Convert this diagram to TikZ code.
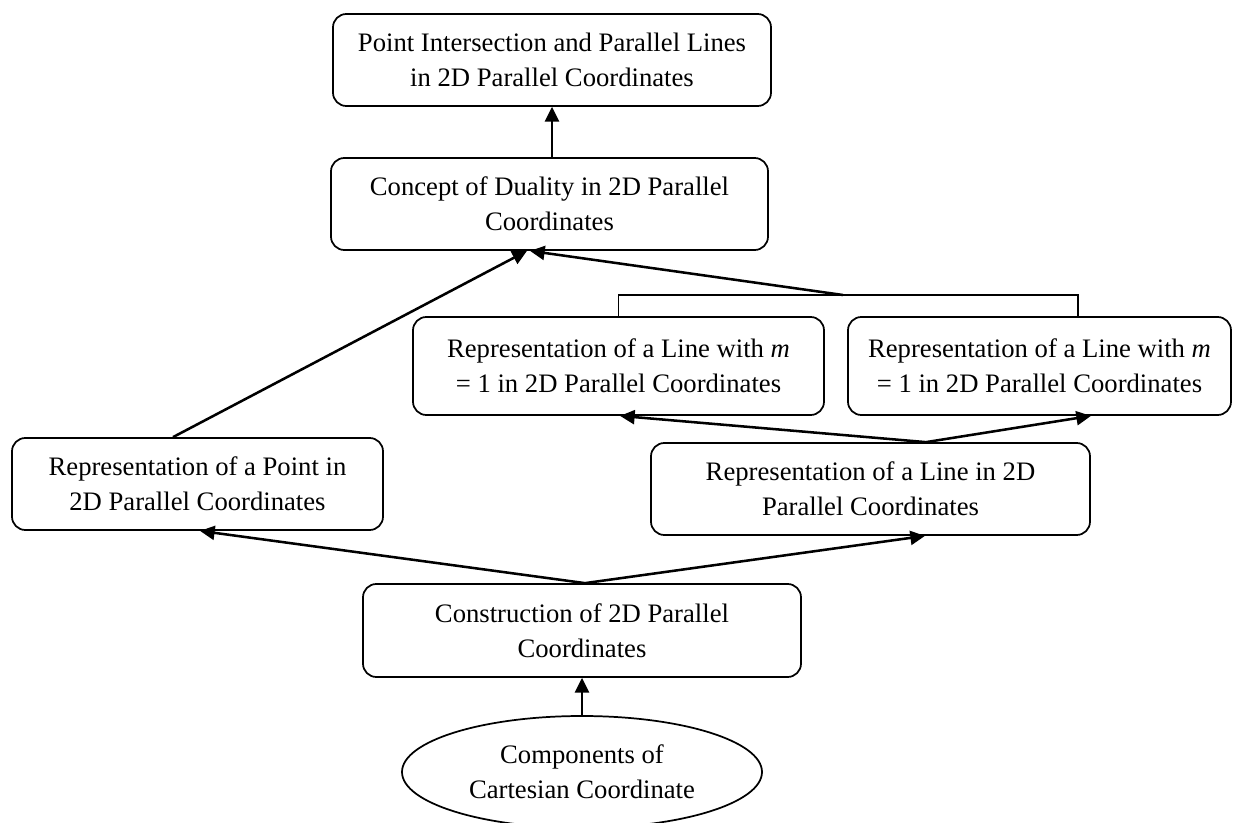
\documentclass[tikz,border=0pt]{standalone}
\usepackage{fontspec}
\setmainfont{Liberation Serif}
\usetikzlibrary{arrows.meta,shapes.geometric,calc}
\newcommand\dfont{\fontsize{20}{26.25}\selectfont}
\begin{document}
\begin{tikzpicture}[x=0.75pt,y=-0.75pt,
  box/.style={draw, line width=1.3pt, rounded corners=10pt, align=center, font=\dfont, inner sep=0pt},
  sz/.style 2 args={minimum width={#1*0.75pt}, minimum height={#2*0.75pt}},
  arr/.style={line width=1.9pt, -{Triangle[length=11pt,width=10.5pt]}},
  brk/.style={line width=1.3pt}]
\useasboundingbox (0,0) rectangle (1233,828);
\node[box, sz={438}{92}] (top) at (552,60) {Point Intersection and Parallel Lines\\in 2D Parallel Coordinates};
\node[box, sz={437}{92}] (concept) at (549.5,204) {Concept of Duality in 2D Parallel\\Coordinates};
\node[box, sz={411}{98}] (lm) at (618.5,366) {Representation of a Line with \textit{m}\\= 1 in 2D Parallel Coordinates};
\node[box, sz={383}{98}] (rm) at (1039.5,366) {Representation of a Line with \textit{m}\\= 1 in 2D Parallel Coordinates};
\node[box, sz={371}{92}] (point) at (197.5,484) {Representation of a Point in\\2D Parallel Coordinates};
\node[box, sz={439}{92}] (line) at (870.5,489) {Representation of a Line in 2D\\Parallel Coordinates};
\node[box, sz={438}{93}] (cons) at (582,630.5) {Construction of 2D Parallel\\Coordinates};
\begin{scope}
\clip (0,0) rectangle (1233,822);
\node[draw, ellipse, line width=1.3pt, sz={360}{112}, align=center, font=\dfont, inner sep=0pt] (comp) at (582,772) {Components of\\Cartesian Coordinate};
\end{scope}
\coordinate (bm) at (843,295);
\coordinate (brr) at (1078,295);
% connectors
\draw[arr] (top.south |- concept.north) -- (top.south);
\draw[arr] ($(point.north)+(-24.5,0)$) -- ($(concept.south)+(-22.5,0)$);
\draw[brk] (lm.north) |- (brr) -- (brr |- rm.north);
\draw[arr] (bm) -- ($(concept.south)+(-19.5,0)$);
\draw[arr] ($(line.north)+(55.5,0)$) -- ($(lm.south)+(1.5,0)$);
\draw[arr] ($(line.north)+(55.5,0)$) -- ($(rm.south)+(51.5,0)$);
\draw[arr] ($(cons.north)+(3,0)$) -- ($(point.south)+(2.5,0)$);
\draw[arr] ($(cons.north)+(3,0)$) -- ($(line.south)+(54.5,0)$);
\draw[arr] (comp.north) -- (comp.north |- cons.south);
\end{tikzpicture}
\end{document}
